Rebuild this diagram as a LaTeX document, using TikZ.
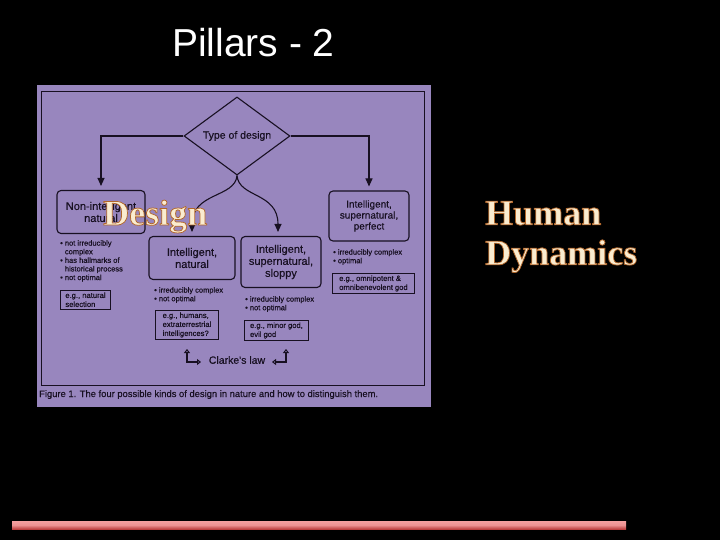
\documentclass[tikz,border=0pt]{standalone}
\usepackage{fontspec}
\setmainfont{Liberation Serif}
\setsansfont{Liberation Sans}
\newfontfamily\figfont[FakeBold=0.5]{Liberation Sans}
\usetikzlibrary{arrows.meta,shapes.geometric}

\definecolor{panel}{RGB}{152,134,190}
\definecolor{ink}{RGB}{24,16,34}
\definecolor{cream}{RGB}{250,236,208}
\definecolor{barlight}{RGB}{245,160,160}
\definecolor{bardark}{RGB}{190,65,65}

% cream letters with a thin brown rim
\newcommand\rimtext[1]{\special{pdf:code q 2 Tr 0.75 w 0.70 0.40 0.16 RG}#1\special{pdf:code Q}}

\begin{document}
\begin{tikzpicture}[x=1pt,y=-1pt,
    box/.style={draw=ink, line width=1.1pt, rounded corners=4pt, text=ink, align=center,
        inner sep=0pt, font=\figfont\fontsize{11}{12}\selectfont},
    egbox/.style={draw=ink, line width=0.9pt, text=ink, align=left, anchor=north west,
        inner sep=2pt, font=\figfont\fontsize{7.6}{9}\selectfont},
    bullets/.style={text=ink, align=left, anchor=north west, inner sep=0pt,
        font=\figfont\fontsize{7.5}{8.6}\selectfont},
    link/.style={draw=ink, line width=1.1pt, -{Triangle[width=7pt,length=8pt]}, shorten >=4pt},
    turn/.style={draw=ink, line width=1.2pt, {Triangle[open,width=6pt,length=4pt]}-{Triangle[open,width=6pt,length=4pt]}},
    big/.style={text=cream, font=\bfseries\fontsize{36}{40}\selectfont, align=left, inner sep=0pt}]
    \useasboundingbox (0,0) rectangle (720,540);
    \fill[black] (0,0) rectangle (720,540);

    % title
    \node[anchor=base west, text=white, inner sep=0pt, font=\sffamily\fontsize{39}{44}\selectfont] (title) at (172,57) {Pillars - 2};

    % scanned figure
    \fill[panel] (37,85) rectangle (431,407);
    \draw[ink, line width=0.9pt] (41,91) rectangle (424,385);

    \node[draw=ink, line width=1.1pt, diamond, minimum width=106pt, minimum height=68pt, inner sep=0pt,
        text=ink, font=\figfont\fontsize{10.5}{12}\selectfont] (type) at (237,136) {Type of design};

    \node[box, minimum width=88pt, minimum height=43pt] (nonint) at (101,212) {Non-intelligent\\natural};
    \node[box, minimum width=80pt, minimum height=50pt, font=\figfont\fontsize{10}{11}\selectfont] (perfect) at (369,216) {Intelligent,\\supernatural,\\perfect};
    \node[box, minimum width=86pt, minimum height=43pt] (natural) at (192,258) {Intelligent,\\natural};
    \node[box, minimum width=80pt, minimum height=51pt] (sloppy) at (281,262) {Intelligent,\\supernatural,\\sloppy};

    \draw[link] (type.west) -| (nonint.north);
    \draw[link] (type.east) -| (perfect.north);
    \draw[link] (type.south) .. controls (235,198) and (192,192) .. (natural.north);
    \draw[link] (type.south) .. controls (239,198) and (278,192) .. ([xshift=-3pt]sloppy.north);

    \node[bullets] (nonintlist) at (60,240) {• not irreducibly\\\phantom{• }complex\\• has hallmarks of\\\phantom{• }historical process\\• not optimal};
    \node[egbox, minimum width=50pt] (nonintex) at (60,290) {e.g., natural\\selection};
    \node[bullets] (naturallist) at (154,287) {• irreducibly complex\\• not optimal};
    \node[egbox, minimum width=63pt] (naturalex) at (155,310) {e.g., humans,\\extraterrestrial\\intelligences?};
    \node[bullets] (sloppylist) at (245,296) {• irreducibly complex\\• not optimal};
    \node[egbox, minimum width=64pt] (sloppyex) at (244,320) {e.g., minor god,\\evil god};
    \node[bullets] (perfectlist) at (333,249) {• irreducibly complex\\• optimal};
    \node[egbox, minimum width=82pt] (perfectex) at (332,273) {e.g., omnipotent \&\\omnibenevolent god};

    \node[text=ink, inner sep=0pt, font=\figfont\fontsize{10.5}{12}\selectfont] (clarke) at (237,360) {Clarke's law};
    \draw[turn] (187,349) |- (201,362);
    \draw[turn] (286,349) |- (272,362);

    \node[anchor=base west, text=ink, inner sep=0pt, font=\figfont\fontsize{9.4}{10}\selectfont] (caption) at (39,397)
        {Figure 1. The four possible kinds of design in nature and how to distinguish them.};

    % slide overlay text
    \node[big, anchor=base west] (design) at (103,225) {\rimtext{Design}};
    \node[big, anchor=north west] (human) at (485,201) {\rimtext{Human}\\\rimtext{Dynamics}};

    \shade[top color=barlight, bottom color=bardark, middle color=barlight!85!bardark] (12,521) rectangle (626,529);
\end{tikzpicture}
\end{document}
